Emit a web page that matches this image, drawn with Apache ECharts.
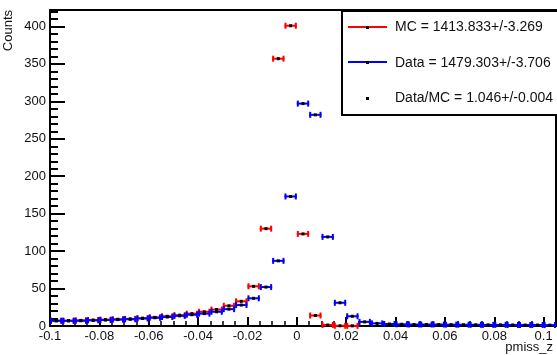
<!DOCTYPE html>
<html>
<head>
<meta charset="utf-8">
<script src="https://cdn.jsdelivr.net/npm/echarts@6/dist/echarts.min.js"></script>
<style>
html, body { margin: 0; padding: 0; background: #fff; }
#main { width: 557px; height: 355px; }
</style>
</head>
<body>
<div id="main"></div>
<script>
// pmiss_z histogram, bin width 0.005
var binCenters = [
    -0.0975, -0.0925, -0.0875, -0.0825, -0.0775, -0.0725, -0.0675, -0.0625, -0.0575, -0.0525,
    -0.0475, -0.0425, -0.0375, -0.0325, -0.0275, -0.0225, -0.0175, -0.0125, -0.0075, -0.0025,
    0.0025, 0.0075, 0.0125, 0.0175, 0.0225, 0.0275, 0.0325, 0.0375, 0.0425, 0.0475,
    0.0525, 0.0575, 0.0625, 0.0675, 0.0725, 0.0775, 0.0825, 0.0875, 0.0925, 0.0975,
    0.1025
];
var mcCounts = [
    7, 7, 7.5, 8, 8.5, 9, 9.5, 10.5, 11.5, 13,
    14.5, 16.5, 19, 22, 27, 33, 53, 130, 357, 401,
    123, 14, 1.3, 0.3, 0.2, 0, 0, 0, 0, 0,
    0, 0, 0, 0, 0, 0, 0, 0, 0, 0,
    0
];
var dataCounts = [
    7, 7, 7, 7.5, 8, 8.5, 9, 10, 11, 12,
    13.5, 15, 16.5, 19, 22.5, 28, 37, 52, 87, 173,
    297, 282, 119, 31, 13, 5.5, 3.5, 2.7, 2.3, 2,
    2, 2, 1.8, 1.7, 1.6, 1.5, 1.5, 1.4, 1.3, 1.3,
    1.2
];
var binHalfWidth = 0.0025;

var chart = echarts.init(document.getElementById('main'));

// horizontal error bar with end caps and a black marker
function errorBar(color) {
    return function (params, api) {
        var v = api.value(1);
        if (!(v > 0)) return;
        var c = api.value(0);
        var l = api.coord([c - binHalfWidth, v]);
        var r = api.coord([c + binHalfWidth, v]);
        var m = api.coord([c, v]);
        var st = { stroke: color, lineWidth: 2 };
        return {
            type: 'group',
            children: [
                { type: 'line', shape: { x1: l[0], y1: l[1], x2: r[0], y2: r[1] }, style: st },
                { type: 'line', shape: { x1: l[0] + 1, y1: l[1] - 3, x2: l[0] + 1, y2: l[1] + 3 }, style: st },
                { type: 'line', shape: { x1: r[0] - 1, y1: r[1] - 3, x2: r[0] - 1, y2: r[1] + 3 }, style: st },
                { type: 'rect', shape: { x: m[0] - 1.5, y: m[1] - 1.5, width: 3, height: 3 }, style: { fill: '#000' } }
            ]
        };
    };
}

var font = 'Liberation Sans, Arial, sans-serif';

option = {
    backgroundColor: '#fff',
    animation: false,
    grid: {
        left: 50, right: 1, top: 10, bottom: 29,
        show: true,
        borderColor: '#000',
        borderWidth: 2
    },
    xAxis: {
        type: 'value',
        min: -0.1,
        max: 0.105,
        interval: 0.02,
        axisLine: { onZero: false, lineStyle: { color: '#000', width: 2 } },
        axisTick: { inside: true, length: 9, lineStyle: { color: '#000', width: 2 } },
        minorTick: { show: true, splitNumber: 4, length: 5, lineStyle: { color: '#000', width: 1.5 } },
        splitLine: { show: false },
        axisLabel: {
            margin: 4,
            showMaxLabel: false,
            color: '#111',
            fontFamily: font,
            fontSize: 13,
            formatter: function (v) {
                if (v > 0.1001) return '';
                return String(+v.toFixed(2));
            }
        }
    },
    yAxis: {
        type: 'value',
        min: 0,
        max: 422,
        interval: 50,
        axisLine: { show: true, onZero: false, lineStyle: { color: '#000', width: 2 } },
        axisTick: { show: true, inside: true, length: 15, lineStyle: { color: '#000', width: 2 } },
        minorTick: { show: true, splitNumber: 5, length: 8, lineStyle: { color: '#000', width: 2 } },
        splitLine: { show: false },
        axisLabel: {
            margin: 4,
            showMaxLabel: false,
            color: '#111',
            fontFamily: font,
            fontSize: 13
        }
    },
    series: [
        {
            name: 'MC',
            type: 'custom',
            renderItem: errorBar('#ff0000'),
            encode: { x: 0, y: 1 },
            data: binCenters.map(function (c, i) { return [c, mcCounts[i]]; }),
            z: 2
        },
        {
            name: 'Data',
            type: 'custom',
            renderItem: errorBar('#0000ff'),
            encode: { x: 0, y: 1 },
            data: binCenters.map(function (c, i) { return [c, dataCounts[i]]; }),
            z: 3
        }
    ],
    graphic: [
        {
            type: 'text', rotation: Math.PI / 2,
            style: { text: 'Counts', font: '13px ' + font, fill: '#111', textAlign: 'right', textVerticalAlign: 'top' },
            x: 2, y: 10, z: 10
        },
        {
            type: 'text', right: 4, top: 341,
            style: { text: 'pmiss_z', font: '13px ' + font, fill: '#111' }, z: 10
        },
        {
            type: 'group', z: 20,
            children: [
                { type: 'rect', shape: { x: 342, y: 11, width: 240, height: 104 }, style: { fill: '#fff', stroke: '#000', lineWidth: 2 } },
                { type: 'line', shape: { x1: 348, y1: 27, x2: 387, y2: 27 }, style: { stroke: '#ff0000', lineWidth: 2 } },
                { type: 'rect', shape: { x: 366, y: 26, width: 3, height: 3 }, style: { fill: '#000' } },
                { type: 'text', x: 395, y: 27, style: { text: 'MC = 1413.833+/-3.269', font: '14px ' + font, fill: '#111', textVerticalAlign: 'middle' } },
                { type: 'line', shape: { x1: 348, y1: 62, x2: 387, y2: 62 }, style: { stroke: '#0000ff', lineWidth: 2 } },
                { type: 'rect', shape: { x: 366, y: 61, width: 3, height: 3 }, style: { fill: '#000' } },
                { type: 'text', x: 395, y: 63, style: { text: 'Data = 1479.303+/-3.706', font: '14px ' + font, fill: '#111', textVerticalAlign: 'middle' } },
                { type: 'rect', shape: { x: 366, y: 97, width: 3, height: 3 }, style: { fill: '#000' } },
                { type: 'text', x: 395, y: 98, style: { text: 'Data/MC = 1.046+/-0.004', font: '14px ' + font, fill: '#111', textVerticalAlign: 'middle' } }
            ]
        }
    ]
};
chart.setOption(option);
</script>
</body>
</html>
